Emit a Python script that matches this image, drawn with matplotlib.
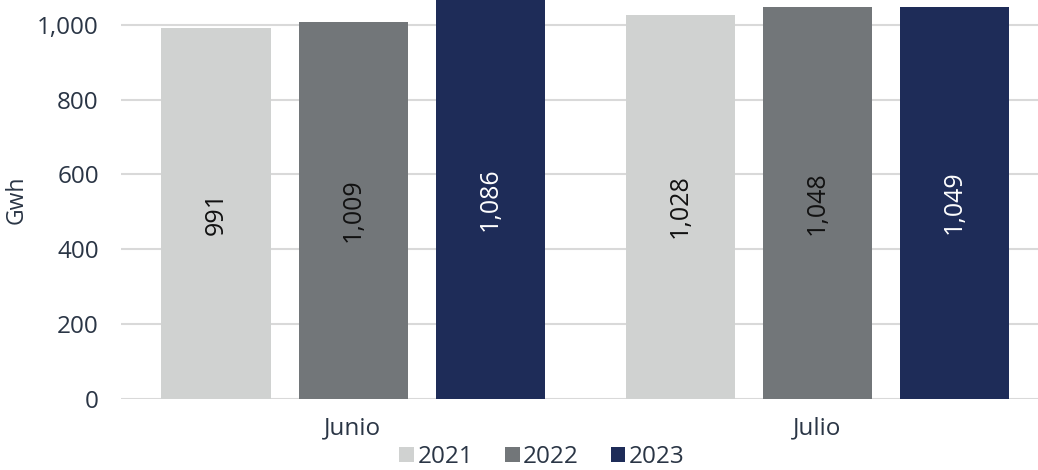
import matplotlib
matplotlib.use("Agg")
import matplotlib.pyplot as plt
import numpy as np

categories = ["Junio", "Julio"]
years = ["2021", "2022", "2023"]
values_2021 = [991, 1028]
values_2022 = [1009, 1048]
values_2023 = [1086, 1049]
yticks = [0, 200, 400, 600, 800, 1000]

series = [values_2021, values_2022, values_2023]
colors = ["#d0d2d1", "#727679", "#1e2c58"]
label_colors = ["#111111", "#111111", "#ffffff"]
text_color = "#2a3545"

plt.rcParams['font.family'] = ['Open Sans', 'DejaVu Sans']
FS = 17.5

W, H = 1038, 470
fig = plt.figure(figsize=(W / 100, H / 100), dpi=100)
ax = fig.add_axes([121 / W, 1 - 398.5 / H, (1038 - 121) / W, 398.5 / H])

ytop = 1067
x = np.arange(len(categories))
bw = 109 / 464
step = 137 / 464
for i, (vals, c, lc, yr) in enumerate(zip(series, colors, label_colors, years)):
    xs = x + (i - 1) * step
    ax.bar(xs, vals, width=bw, color=c, label=yr, zorder=3)
    for xi, v in zip(xs, vals):
        ax.text(xi, min(v, ytop) / 2, f"{v:,}", rotation=90, ha="center", va="center",
                color=lc, fontsize=FS + 0.5, zorder=4)

ax.set_xlim(-0.5, (1038 - 353) / 464)
ax.set_ylim(0, ytop)
ax.set_yticks(yticks)
ax.set_yticklabels([f"{t:,}" for t in yticks])
ax.yaxis.grid(True, color="#d9d9d9", linewidth=1.5, zorder=0)
ax.set_axisbelow(True)
for s in ax.spines.values():
    s.set_visible(False)
ax.tick_params(axis="both", length=0, labelsize=FS, colors=text_color)
ax.tick_params(axis="y", pad=16)
ax.tick_params(axis="x", pad=13)
ax.set_xticks(x)
ax.set_xticklabels(categories)
ax.set_ylabel("Gwh", fontsize=FS - 1, color=text_color, labelpad=6)

leg = fig.legend(loc="center", bbox_to_anchor=(542 / W, 1 - 457 / H), ncol=3, frameon=False,
                 fontsize=FS, handlelength=0.6, handleheight=0.6, handletextpad=0.15,
                 columnspacing=1.3, labelcolor=text_color)

fig.savefig("out.png", dpi=100)
